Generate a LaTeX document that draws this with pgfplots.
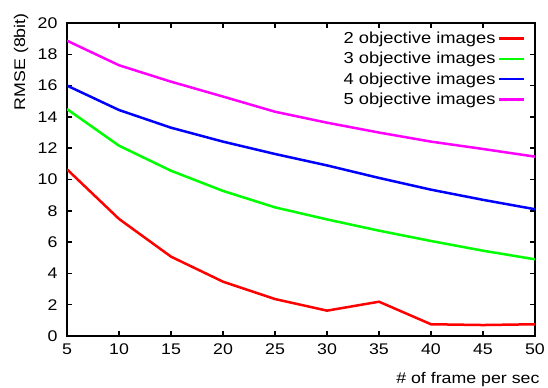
\documentclass[border=0pt]{standalone}
\usepackage{fontspec}
\setmainfont{Liberation Sans}[FakeStretch=1.15]
\usepackage{pgfplots}
\pgfplotsset{compat=1.18}
\definecolor{cred}{RGB}{255,0,0}
\definecolor{cgreen}{RGB}{0,255,0}
\definecolor{cblue}{RGB}{0,0,255}
\definecolor{cmag}{RGB}{255,0,255}
\begin{document}
\begin{tikzpicture}
\begin{axis}[
  scale only axis, width=468bp, height=313bp,
  xmin=5, xmax=50, ymin=0, ymax=20,
  xtick={5,10,...,50}, ytick={0,2,...,20},
  tick align=inside, major tick length=4.5bp,
  axis line style={line width=2.2bp},
  every tick/.style={black, line width=1.6bp},
  font=\fontsize{15.5}{18}\selectfont,
  /pgf/number format/assume math mode=true,
  yticklabel style={xshift=-6bp},
  xticklabel style={yshift=-4bp},
  xlabel={\# of frame per sec},
  ylabel={RMSE (8bit)},
  xlabel style={at={(axis description cs:1.017,-0.1406)}, anchor=east},
  ylabel style={at={(axis description cs:-0.098,1.042)}, anchor=east},
  legend plot pos=right, legend cell align=right,
  legend style={at={(axis description cs:0.979,0.978)}, anchor=north east,
    draw=none, fill=none, inner sep=0pt, row sep=3.2bp,
    font=\fontsize{16}{18}\selectfont},
  legend image code/.code={\draw[#1] (0bp,0bp) -- (25bp,0bp);},
  every axis plot/.append style={line width=2.5bp},
]
\addplot[cred] coordinates {(5,10.65) (10,7.48) (15,5.07) (20,3.47) (25,2.36) (30,1.62) (35,2.19) (40,0.75) (45,0.70) (50,0.75)};
\addlegendentry{2 objective images}
\addplot[cgreen] coordinates {(5,14.5) (10,12.16) (15,10.56) (20,9.27) (25,8.22) (30,7.45) (35,6.73) (40,6.07) (45,5.45) (50,4.9)};
\addlegendentry{3 objective images}
\addplot[cblue] coordinates {(5,16.0) (10,14.44) (15,13.31) (20,12.42) (25,11.63) (30,10.9) (35,10.1) (40,9.35) (45,8.7) (50,8.1)};
\addlegendentry{4 objective images}
\addplot[cmag] coordinates {(5,18.87) (10,17.3) (15,16.25) (20,15.3) (25,14.33) (30,13.63) (35,13.0) (40,12.42) (45,11.95) (50,11.46)};
\addlegendentry{5 objective images}
\coordinate (bbl) at (axis description cs:-0.1432,-0.1661);
\coordinate (btr) at (axis description cs:1.0278,1.0735);
\end{axis}
\pgfresetboundingbox
\path (bbl) rectangle (btr);
\end{tikzpicture}
\end{document}
